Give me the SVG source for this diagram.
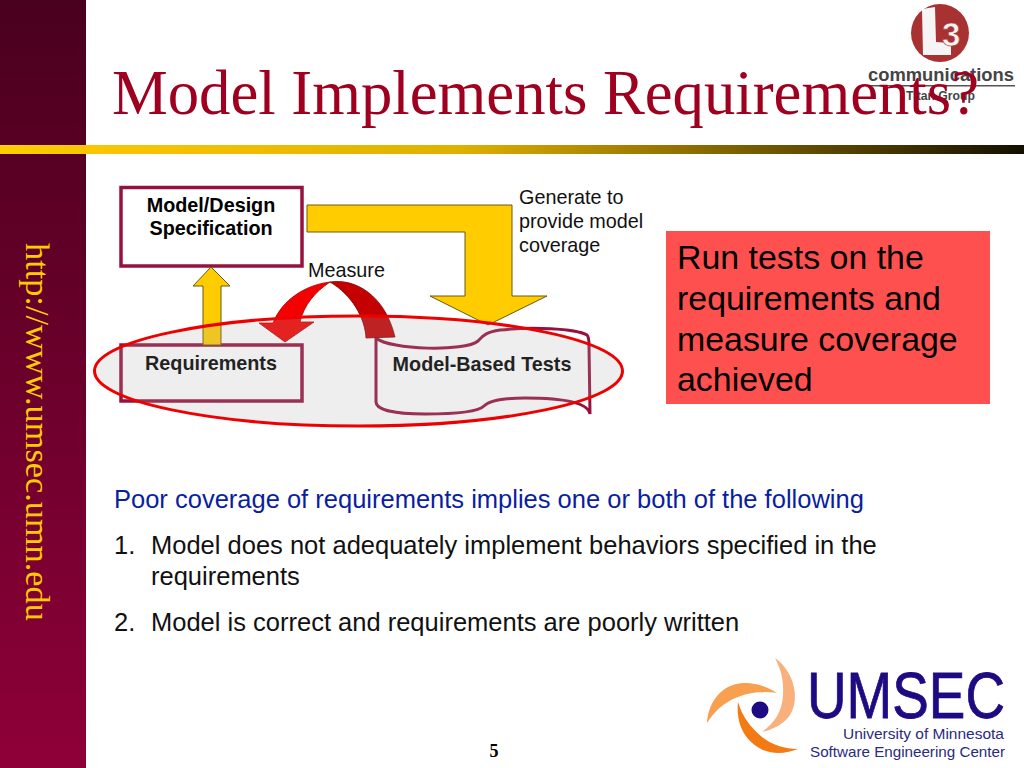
<svg xmlns="http://www.w3.org/2000/svg" width="1024" height="768" viewBox="0 0 1024 768">
<style>
.s{font-family:"Liberation Sans",Arial,sans-serif}
.t{font-size:19.8px;fill:#111}
.b{font-size:19.8px;font-weight:bold}
.p{font-size:25.5px;fill:#111}
.r{font-size:33.9px;fill:#000}
.y{fill:#ffcc00;stroke:#6b5a10;stroke-width:1}
.box{fill:#fff;stroke:#96123c;stroke-width:3.5}
</style>
<defs>
<linearGradient id="side" x1="0" y1="0" x2="0" y2="1"><stop offset="0" stop-color="#4a001f"/><stop offset="1" stop-color="#8e0038"/></linearGradient>
<linearGradient id="bar" x1="0" y1="0" x2="1" y2="0"><stop offset="0" stop-color="#ffcc00"/><stop offset=".45" stop-color="#e0b000"/><stop offset="1" stop-color="#140e00"/></linearGradient>
</defs>
<rect width="1024" height="768" fill="#fff"/>
<g id="background">
<rect x="0" y="0" width="86" height="768" fill="url(#side)"/>
<rect x="0" y="145" width="1024" height="9" fill="url(#bar)"/>
</g>
<g id="l3-logo">
<circle cx="940" cy="33" r="29" fill="#a83232"/>
<path d="M922 9L935 7L936 42L951 43L951 55L923 55Z" fill="#f6f4f4"/>
<text class="s" x="942" y="46" font-size="33" font-weight="bold" fill="#f6f4f4" stroke="#a83232" stroke-width=".6">3</text>
<text class="s" x="868" y="81" font-size="17.5" font-weight="bold" fill="#444" textLength="146" lengthAdjust="spacingAndGlyphs">communications</text>
<rect x="868" y="85" width="147" height="1.5" fill="#555"/>
<text class="s" x="906" y="100" font-size="12.5" font-weight="bold" fill="#444" textLength="69" lengthAdjust="spacingAndGlyphs">Titan Group</text>
</g>
<text id="title" x="112" y="113.500" font-family="'Liberation Serif','Times New Roman',serif" font-size="62.700" fill="#a00020">Model Implements Requirements?</text>
<text id="url" transform="translate(26,243) rotate(90)" font-family="'Liberation Serif','Times New Roman',serif" font-size="34.300" fill="#ffcc00">http://www.umsec.umn.edu</text>
<g id="model-design"><rect class="box" x="121" y="187.500" width="181" height="78.500"/>
<text class="s b" x="211" y="212" text-anchor="middle">Model/Design</text>
<text class="s b" x="211" y="235" text-anchor="middle">Specification</text></g>
<g id="requirements"><rect class="box" x="121" y="345" width="181" height="56"/>
<text class="s b" x="211" y="370" text-anchor="middle">Requirements</text></g>
<g id="model-based-tests">
<path d="M376 338C390 350 465 352 478 341C484 334 488 332 500 330C530 327 575 328 587 335C589 337 589 340 589 345L590 414C588 402 560 398 525 398C505 398 490 400 484 406C478 412 455 414 425 414C395 414 376 410 376 402Z" fill="#fff" stroke="#96123c" stroke-width="3"/>
<text class="s b" x="482" y="371" text-anchor="middle">Model-Based Tests</text></g>
<g id="connectors">
<path class="y" d="M307 205H512V296H547L488 325L430 296H465V232H307Z"/>
<path class="y" d="M203 345V286H193L211 267L230 286H221V345Z"/>
<path d="M330 282C355 278 385 295 395 337L366 338C365 318 352 295 330 282Z" fill="#c40000" stroke="#7a0000" stroke-width=".8"/>
<path d="M330 282C305 285 282 300 273 323H259L285 342L314 322H300C304 305 315 292 330 282Z" fill="#f40000" stroke="#a00000" stroke-width=".8"/>
</g>
<g id="highlight">
<ellipse cx="358.500" cy="371" rx="264" ry="55" fill="#aaa" fill-opacity=".2" stroke="#ee0000" stroke-width="3"/>
</g>
<g id="labels">
<text class="s t" x="519" y="203.500">Generate to</text>
<text class="s t" x="519" y="227.500">provide model</text>
<text class="s t" x="519" y="251.500">coverage</text>
<text class="s t" x="308" y="276.500">Measure</text>
</g>
<g id="callout"><rect x="666" y="231" width="324" height="173" fill="#ff5050"/>
<text class="s r" x="677" y="269">Run tests on the</text>
<text class="s r" x="677" y="310">requirements and</text>
<text class="s r" x="677" y="351">measure coverage</text>
<text class="s r" x="677" y="391">achieved</text></g>
<g id="body">
<text class="s p" x="114" y="508" style="fill:#0a1ea0">Poor coverage of requirements implies one or both of the following</text>
<text class="s p" x="114" y="554">1.</text>
<text class="s p" x="151" y="554">Model does not adequately implement behaviors specified in the</text>
<text class="s p" x="151" y="585">requirements</text>
<text class="s p" x="114" y="631">2.</text>
<text class="s p" x="151" y="631">Model is correct and requirements are poorly written</text>
</g>
<text id="page" x="494" y="757" text-anchor="middle" font-family="'Liberation Serif',serif" font-weight="bold" font-size="18" fill="#000">5</text>
<g id="umsec-logo">
<circle cx="760" cy="710" r="8.500" fill="#1e0a82"/>
<path d="M775 658C795 672 800 700 790 715C784 724 772 730 762 732C775 722 782 712 783 695C784 680 781 670 775 658Z" fill="#f8b07c"/>
<path d="M707 723C708 705 718 690 733 685C748 680 765 685 777 693C765 691 750 692 738 697C724 702 714 712 707 723Z" fill="#f7a050"/>
<path d="M738 702C736 720 742 740 763 750C775 755 788 753 798 749C785 749 772 745 762 737C750 727 742 716 738 702Z" fill="#f47a14"/>
<text class="s" transform="translate(807,718) scale(.857,1)" font-size="64" fill="#1e0a82" stroke="#1e0a82" stroke-width=".8">UMSEC</text>
<text class="s" x="843" y="739" font-size="15" fill="#2a2a80" textLength="161" lengthAdjust="spacingAndGlyphs">University of Minnesota</text>
<text class="s" x="810" y="757" font-size="15" fill="#2a2a80" textLength="195" lengthAdjust="spacingAndGlyphs">Software Engineering Center</text>
</g>
</svg>
